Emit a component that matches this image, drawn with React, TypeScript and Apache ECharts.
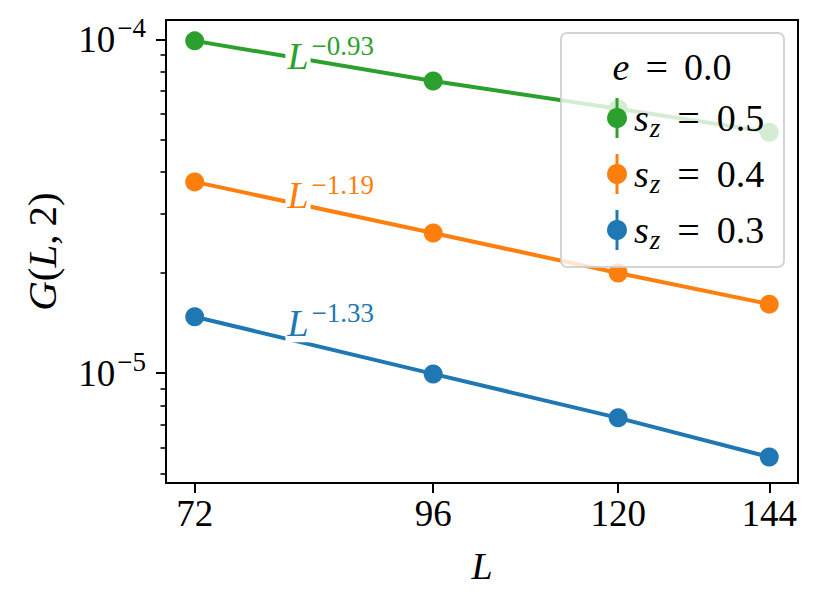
import { useEffect, useRef } from 'react'
import * as echarts from 'echarts'

const FONT = 'Liberation Serif'

// system sizes L and the measured G(L, 2)
const L_VALUES = [72, 96, 120, 144]
const G_SZ05 = [9.89e-5, 7.5e-5, 6.19e-5, 5.27e-5]
const G_SZ04 = [3.74e-5, 2.63e-5, 1.995e-5, 1.61e-5]
const G_SZ03 = [1.476e-5, 9.95e-6, 7.35e-6, 5.61e-6]

const SZ_LABELS = ['0.5', '0.4', '0.3']
const COLORS = ['#2ca02c', '#ff7f0e', '#1f77b4']
const EXPONENTS = ['−0.93', '−1.19', '−1.33']
// where the power-law labels sit (data coords)
const LABEL_L = [81.5, 81.5, 81.5]
const LABEL_G = [8.9e-5, 3.42e-5, 1.41e-5]

const X_TICKS = [72, 96, 120, 144]
const Y_MAJOR = [1e-5, 1e-4]
const Y_MINOR = [5e-6, 6e-6, 7e-6, 8e-6, 9e-6, 2e-5, 3e-5, 4e-5, 5e-5, 6e-5, 7e-5, 8e-5, 9e-5]

const X_MIN = 69.55
const X_MAX = 149.08
const Y_MIN = 4.69e-6
const Y_MAX = 1.142e-4

const ital = { fontFamily: FONT, fontStyle: 'italic', fontSize: 38, color: '#000' }
const roman = { fontFamily: FONT, fontSize: 38, color: '#000' }

export default function App() {
  const chartRef = useRef<HTMLDivElement>(null)

  useEffect(() => {
    if (!chartRef.current) return
    const chart = echarts.init(chartRef.current, null, { renderer: 'svg' })

    const groups = [G_SZ05, G_SZ04, G_SZ03]

    const series = groups.map((vals, i) => ({
      name: 's_z = ' + SZ_LABELS[i],
      type: 'line',
      data: L_VALUES.map((l, j) => [l, vals[j]]),
      symbol: 'circle',
      symbolSize: 19,
      color: COLORS[i],
      lineStyle: { width: 4, color: COLORS[i] },
      itemStyle: { color: COLORS[i] },
      markPoint: {
        symbol: 'circle',
        symbolSize: 0,
        silent: true,
        data: [{ coord: [LABEL_L[i], LABEL_G[i]] }],
        label: {
          show: true,
          position: 'inside',
          align: 'left',
          offset: [-12, 0],
          formatter: '{l|L}{s|' + EXPONENTS[i] + '}',
          rich: {
            l: { ...ital, color: COLORS[i], backgroundColor: '#fff', padding: [0, 2, 0, 2] },
            s: { fontFamily: FONT, fontSize: 27, color: COLORS[i], padding: [0, 0, 20, 1] },
          },
        },
      },
    }))

    const legendRows = [118, 174, 230]
    const legendX = 617
    const legendGraphics: any[] = [
      {
        type: 'rect',
        z: 100,
        shape: { x: 561, y: 33, width: 223, height: 234, r: 6 },
        style: { fill: 'rgba(255,255,255,0.8)', stroke: 'rgba(204,204,204,0.85)', lineWidth: 2 },
      },
      {
        type: 'text',
        z: 101,
        style: {
          x: 672,
          y: 67,
          align: 'center',
          verticalAlign: 'middle',
          text: '{i|e}{eq|=}{r|0.0}',
          rich: { i: ital, eq: { ...roman, fontSize: 40, padding: [0, 16, 0, 16] }, r: roman },
        },
      },
    ]
    SZ_LABELS.forEach((lab, i) => {
      const y = legendRows[i]
      legendGraphics.push(
        {
          type: 'line',
          z: 101,
          shape: { x1: legendX, y1: y - 20, x2: legendX, y2: y + 20 },
          style: { stroke: COLORS[i], lineWidth: 3 },
        },
        {
          type: 'circle',
          z: 101,
          shape: { cx: legendX, cy: y, r: 10 },
          style: { fill: COLORS[i] },
        },
        {
          type: 'text',
          z: 101,
          style: {
            x: 634,
            y,
            align: 'left',
            verticalAlign: 'middle',
            text: '{i|s}{sub|z}{eq|=}{r|' + lab + '}',
            rich: {
              i: ital,
              sub: { ...ital, fontSize: 27, padding: [20, 0, 0, 1] },
              eq: { ...roman, fontSize: 40, padding: [0, 17, 0, 17] },
              r: roman,
            },
          },
        }
      )
    })

    const option = {
      animation: false,
      textStyle: { fontFamily: FONT },
      grid: {
        left: 166,
        top: 20,
        right: 31,
        bottom: 122,
        show: true,
        borderColor: '#000',
        borderWidth: 2,
        backgroundColor: 'transparent',
        outerBoundsMode: 'none',
      },
      xAxis: {
        type: 'log',
        min: X_MIN,
        max: X_MAX,
        name: 'L',
        nameLocation: 'middle',
        nameGap: 64,
        nameMoveOverlap: false,
        nameTextStyle: { ...ital },
        axisLine: { show: false },
        axisTick: { show: true, length: 10, lineStyle: { color: '#000', width: 2 }, customValues: X_TICKS },
        axisLabel: {
          customValues: X_TICKS,
          margin: 12,
          color: '#000',
          fontFamily: FONT,
          fontSize: 37,
          formatter: (v: number) => String(Math.round(v)),
        },
        splitLine: { show: false },
        minorTick: { show: false },
      },
      yAxis: [
        {
          type: 'log',
          min: Y_MIN,
          max: Y_MAX,
          name: '{i|G}{r|(}{i|L}{r|,}{r2|2)}',
          nameLocation: 'middle',
          nameGap: 104,
          nameMoveOverlap: false,
          nameTextStyle: {
            ...roman,
            fontSize: 41,
            rich: {
              i: { ...ital, fontSize: 41 },
              r: { ...roman, fontSize: 41 },
              r2: { ...roman, fontSize: 41, padding: [0, 0, 0, 8] },
            },
          },
          axisLine: { show: false },
          axisTick: { show: true, length: 10, lineStyle: { color: '#000', width: 2 }, customValues: Y_MAJOR },
          axisLabel: {
            customValues: Y_MAJOR,
            margin: 20,
            color: '#000',
            formatter: (v: number) => '{b|10}{s|−' + Math.round(-Math.log10(v)) + '}',
            rich: {
              b: { fontFamily: FONT, fontSize: 37, color: '#000' },
              s: { fontFamily: FONT, fontSize: 27, color: '#000', padding: [0, 0, 22, 2] },
            },
          },
          splitLine: { show: false },
        },
        {
          type: 'log',
          min: Y_MIN,
          max: Y_MAX,
          position: 'left',
          axisLine: { show: false },
          axisTick: { show: true, length: 5.5, lineStyle: { color: '#000', width: 1.6 }, customValues: Y_MINOR },
          axisLabel: { show: false },
          splitLine: { show: false },
        },
      ],
      series,
      graphic: legendGraphics,
    }

    chart.setOption(option as any)
    return () => {
      chart.dispose()
    }
  }, [])

  return (
    <div
      ref={chartRef}
      style={{ position: 'absolute', left: 0, top: 0, width: 829, height: 605, background: '#fff' }}
    />
  )
}
